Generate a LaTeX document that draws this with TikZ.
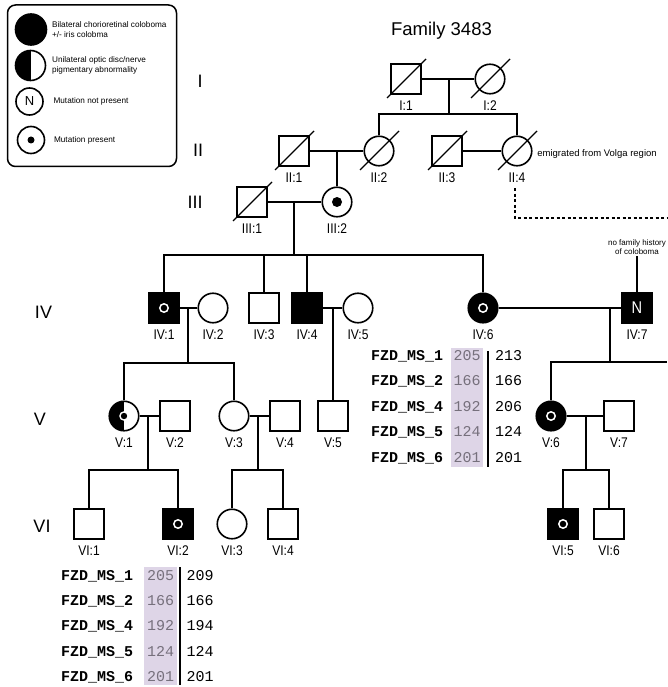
\documentclass[tikz,border=0pt]{standalone}
\usepackage{fontspec}
\setmainfont{Liberation Sans}
\setmonofont{Liberation Mono}
\newfontfamily\lblfont[FakeStretch=0.86]{Liberation Sans}
\usepackage{xcolor}
\usepackage{tikz}
\usetikzlibrary{positioning}
\definecolor{allelebg}{RGB}{222,213,231}
\definecolor{allelefg}{RGB}{118,112,124}

\begin{document}
\begin{tikzpicture}[x=1pt, y=-1pt, line width=1.6pt,
  every node/.style={inner sep=1pt},
  every label/.style={font=\lblfont\fontsize{14}{14}\selectfont, inner sep=2pt},
  label distance=3.5pt,
  male/.style={draw, rectangle, minimum size=29.5pt, inner sep=0pt},
  female/.style={draw, circle, minimum size=29.5pt, inner sep=0pt},
  affected/.style={fill=black},
  ring/.style={path picture={\draw[white, line width=1.5pt]
      (path picture bounding box.center) circle (4.2);}},
  carrier/.style={path picture={\fill
      (path picture bounding box.center) circle (#1);}},
  carrier/.default=5,
  half/.style={path picture={\fill (path picture bounding box.south west)
      rectangle (path picture bounding box.north);}},
  halfcarrier/.style={path picture={\fill (path picture bounding box.south west)
      rectangle (path picture bounding box.north);
      \fill[white] (path picture bounding box.center) circle (4.8);
      \fill (path picture bounding box.center) circle (3.2);}},
  gen/.style={font=\fontsize{18}{18}\selectfont, anchor=base},
  key/.style={font=\fontsize{8.2}{9.5}\selectfont, align=left},
  note/.style={font=\fontsize{8}{9.5}\selectfont, align=center},
  migrate/.style={dash pattern=on 3pt off 2.5pt, line width=1.5pt},
  marker/.style={font=\ttfamily\bfseries\fontsize{15}{15}\selectfont, anchor=base east, inner sep=0pt},
  allele/.style={font=\ttfamily\fontsize{15}{15}\selectfont, anchor=base, inner sep=0pt}]
\useasboundingbox (0,0) rectangle (667,687);

% key
\draw[line width=1.5pt, rounded corners=8pt] (7.5,5) rectangle (176.5,166.5);
\node[female, affected, minimum size=31pt] (keyA) at (31,29.5) {};
\node[key, right=3pt of keyA] (keyAt) {Bilateral chorioretinal coloboma\\+/- iris colobma};
\node[female, half, minimum size=30pt] (keyB) at (30.5,65.5) {};
\node[key, right=4pt of keyB] (keyBt) {Unilateral optic disc/nerve\\pigmentary abnormality};
\node[female, minimum size=27pt, font=\fontsize{13}{13}\selectfont] (keyN) at (29.5,101.5) {N};
\node[key, right=8pt of keyN] (keyNt) {Mutation not present};
\node[female, carrier=3.5, minimum size=27pt] (keyC) at (31,140) {};
\node[key, right=7pt of keyC] (keyCt) {Mutation present};

\node[font=\fontsize{18.5}{20}\selectfont, anchor=base] (title) at (441.5,36) {Family 3483};

% generations
\node[gen] (gI) at (200,88) {I};
\node[gen] (gII) at (198,157) {II};
\node[gen] (gIII) at (195,208) {III};
\node[gen] (gIV) at (43.5,318) {IV};
\node[gen] (gV) at (40,425) {V};
\node[gen] (gVI) at (42,532) {VI};

% I
\node[male, label=below:{I:1}] (I1) at (406,79) {};
\node[female, label=below:{I:2}] (I2) at (490,79) {};
% II
\node[male, label=below:{II:1}] (II1) at (294,151) {};
\node[female, label=below:{II:2}] (II2) at (379,151) {};
\node[male, label=below:{II:3}] (II3) at (447,151) {};
\node[female, label=below:{II:4}] (II4) at (517,151) {};
\node[note, font=\fontsize{9.5}{11}\selectfont, right=3pt of II4, yshift=-3pt] (volga) {emigrated from Volga region};
% III
\node[male, label=below:{III:1}] (III1) at (252,202) {};
\node[female, carrier, label=below:{III:2}] (III2) at (337,202) {};
% IV
\node[male, affected, ring, label=below:{IV:1}] (IV1) at (164,308) {};
\node[female, label=below:{IV:2}] (IV2) at (213,308) {};
\node[male, label=below:{IV:3}] (IV3) at (264,308) {};
\node[male, affected, label=below:{IV:4}] (IV4) at (307,308) {};
\node[female, label=below:{IV:5}] (IV5) at (358,308) {};
\node[female, affected, ring, label=below:{IV:6}] (IV6) at (483,308) {};
\node[male, affected, text=white, font=\lblfont\fontsize{17}{17}\selectfont,
  label=below:{IV:7}] (IV7) at (637,308) {N};
\node[note, above=36pt of IV7] (nohist) {no family history\\of coloboma};
% V
\node[female, halfcarrier, label=below:{V:1}] (V1) at (124,416) {};
\node[male, label=below:{V:2}] (V2) at (175,416) {};
\node[female, label=below:{V:3}] (V3) at (234,416) {};
\node[male, label=below:{V:4}] (V4) at (285,416) {};
\node[male, label=below:{V:5}] (V5) at (333,416) {};
\node[female, affected, ring, label=below:{V:6}] (V6) at (551,416) {};
\node[male, label=below:{V:7}] (V7) at (619,416) {};
% VI
\node[male, label=below:{VI:1}] (VI1) at (89,524) {};
\node[male, affected, ring, label=below:{VI:2}] (VI2) at (178,524) {};
\node[female, label=below:{VI:3}] (VI3) at (232,524) {};
\node[male, label=below:{VI:4}] (VI4) at (283,524) {};
\node[male, affected, ring, label=below:{VI:5}] (VI5) at (563,524) {};
\node[male, label=below:{VI:6}] (VI6) at (609,524) {};

% deceased
\foreach \p in {I1,I2,II1,II2,II3,II4,III1}
  \draw[line width=1.4pt] ([shift={(-19,19)}]\p.center) -- ([shift={(20,-20)}]\p.center);

% lines of descent
\draw (I1) -- (I2);
\coordinate (sI) at (449,114);
\draw (sI |- I1) -- (sI);
\draw (II2.north) |- (sI) -| (II4.north);
\draw (II1) -- (II2);
\draw (II3) -- (II4);
\draw (III2.north) -- (III2 |- II1);
\coordinate (volgaend) at (667,218);
\draw[migrate] ([shift={(-2,37)}]II4.center) |- (volgaend);
\draw (III1) -- (III2);
\coordinate (sIII) at (294,255);
\draw (sIII |- III1) -- (sIII);
\draw (IV1.north) |- (sIII) -| (IV6.north);
\draw (IV3.north) -- (IV3 |- sIII);
\draw (IV4.north) -- (IV4 |- sIII);
\draw (IV7.north) -- (nohist.south);
\draw (IV1) -- (IV2);
\coordinate (sIVa) at (188,363);
\draw (sIVa |- IV1) -- (sIVa);
\draw (V1.north) |- (sIVa) -| (V3.north);
\draw (IV4) -- (IV5);
\draw (V5.north) -- (V5 |- IV4);
\draw (IV6) -- (IV7);
\coordinate (sIVc) at (610,362);
\coordinate (sIVend) at (667,362);
\draw (sIVc |- IV6) -- (sIVc);
\draw (V6.north) |- (sIVend);
\draw (V1) -- (V2);
\coordinate (sVa) at (148,470);
\draw (sVa |- V1) -- (sVa);
\draw (VI1.north) |- (sVa) -| (VI2.north);
\draw (V3) -- (V4);
\coordinate (sVb) at (258,470);
\draw (sVb |- V3) -- (sVb);
\draw (VI3.north) |- (sVb) -| (VI4.north);
\draw (V6) -- (V7);
\coordinate (sVc) at (586,470);
\draw (sVc |- V6) -- (sVc);
\draw (VI5.north) |- (sVc) -| (VI6.north);

% haplotypes
\fill[allelebg] (451,348) rectangle (483,467);
\draw (488,351) -- (488,467);
\foreach \mk/\a/\b [count=\i from 0] in {1/205/213, 2/166/166, 4/192/206, 5/124/124, 6/201/201}{
  \node[marker] (mkA\i) at (444,{360.5+25.4*\i}) {FZD\_MS\_\mk};
  \node[allele, text=allelefg] (alA\i) at (467,{360.5+25.4*\i}) {\a};
  \node[allele] (blA\i) at (508.5,{360.5+25.4*\i}) {\b};
}
\fill[allelebg] (144,567) rectangle (177,685);
\draw (180,567) -- (180,685);
\foreach \mk/\a/\b [count=\i from 0] in {1/205/209, 2/166/166, 4/192/194, 5/124/124, 6/201/201}{
  \node[marker] (mkB\i) at (134,{580+25.4*\i}) {FZD\_MS\_\mk};
  \node[allele, text=allelefg] (alB\i) at (160.5,{580+25.4*\i}) {\a};
  \node[allele] (blB\i) at (200,{580+25.4*\i}) {\b};
}
\end{tikzpicture}
\end{document}
